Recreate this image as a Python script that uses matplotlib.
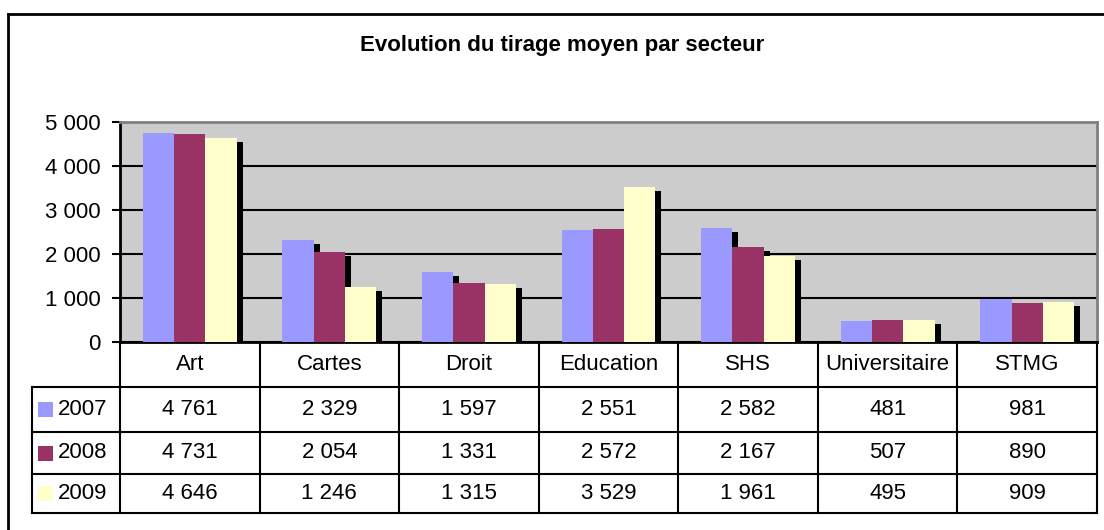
import numpy as np
import matplotlib
matplotlib.use('Agg')
import matplotlib.pyplot as plt
import matplotlib.transforms as mtransforms
from matplotlib.patches import Rectangle

plt.rcParams['font.family'] = ['Liberation Sans', 'DejaVu Sans']

# --- DONNEES ---
secteurs = ['Art', 'Cartes', 'Droit', 'Education', 'SHS', 'Universitaire', 'STMG']
annees = ['2007', '2008', '2009']
tirage_2007 = [4761, 2329, 1597, 2551, 2582, 481, 981]
tirage_2008 = [4731, 2054, 1331, 2572, 2167, 507, 890]
tirage_2009 = [4646, 1246, 1315, 3529, 1961, 495, 909]
series = [tirage_2007, tirage_2008, tirage_2009]
couleurs = ['#9999FF', '#993366', '#FFFFCC']
yticks = [0, 1000, 2000, 3000, 4000, 5000]
titre = 'Evolution du tirage moyen par secteur'

W, H = 1104, 530
fig = plt.figure(figsize=(W / 100, H / 100), dpi=100)

# zone de trace (pixels)
x0, x1 = 120, 1097
ytop, ybot = 122, 342
ax = fig.add_axes([x0 / W, 1 - ybot / H, (x1 - x0) / W, (ybot - ytop) / H])
ax.set_facecolor('#CCCCCC')

n = len(secteurs)
x = np.arange(n)
larg = 0.224

# ombre : decalage de 6 px a droite, 4 px en bas
ombre = mtransforms.offset_copy(ax.transData, fig=fig, x=6, y=-4, units='dots')
for i, (vals, c) in enumerate(zip(series, couleurs)):
    pos = x + (i - 1) * larg
    ax.bar(pos, vals, width=larg, color='black', transform=ombre, zorder=2, linewidth=0)
for i, (vals, c) in enumerate(zip(series, couleurs)):
    pos = x + (i - 1) * larg
    ax.bar(pos, vals, width=larg, color=c, zorder=3, linewidth=0)

ax.set_xlim(-0.5, n - 0.5)
ax.set_ylim(0, 5000)
ax.set_yticks(yticks)
ax.set_yticklabels([f'{v:,}'.replace(',', ' ') for v in yticks], fontsize=16)
ax.set_xticks([])
ax.tick_params(axis='y', length=6, width=1.5, pad=8, color='black')
ax.yaxis.grid(True, color='black', linewidth=1.5)
ax.set_axisbelow(True)
for s in ['left', 'bottom']:
    ax.spines[s].set_color('black')
    ax.spines[s].set_linewidth(2)
for s in ['top', 'right']:
    ax.spines[s].set_color('#808080')
    ax.spines[s].set_linewidth(2)

# --- TABLE DE DONNEES + cadre (coordonnees pixels) ---
ov = fig.add_axes([0, 0, 1, 1])
ov.set_xlim(0, W)
ov.set_ylim(H, 0)
ov.axis('off')
ov.patch.set_alpha(0)

lw = 1.5
col_w = (x1 - x0) / n
rangs = [342, 387, 432, 474, 513]
xl = 32

# cadre exterieur
ov.plot([8, W], [14, 14], color='black', lw=2)
ov.plot([8, 8], [14, H], color='black', lw=2)

# lignes horizontales
for yy in rangs[1:]:
    ov.plot([xl, x1], [yy, yy], color='black', lw=lw)
# lignes verticales
for k in range(n + 1):
    xx = x0 + k * col_w
    ov.plot([xx, xx], [rangs[0], rangs[-1]], color='black', lw=lw)
ov.plot([xl, xl], [rangs[1], rangs[-1]], color='black', lw=lw)

# en-tetes
for k, s in enumerate(secteurs):
    cx = x0 + (k + 0.5) * col_w
    ov.text(cx, (rangs[0] + rangs[1]) / 2, s, ha='center', va='center', fontsize=16)

# lignes de valeurs
for r, (an, vals, c) in enumerate(zip(annees, series, couleurs)):
    cy = (rangs[r + 1] + rangs[r + 2]) / 2
    ov.add_patch(Rectangle((38, cy - 7.5), 15, 15, color=c, lw=0))
    ov.text(58, cy, an, ha='left', va='center', fontsize=16)
    for k, v in enumerate(vals):
        cx = x0 + (k + 0.5) * col_w
        ov.text(cx, cy, f'{v:,}'.replace(',', ' '), ha='center', va='center', fontsize=16)

# titre
ov.text(562, 46, titre, ha='center', va='center', fontsize=16, fontweight='bold')

fig.savefig('out.png', dpi=100)
